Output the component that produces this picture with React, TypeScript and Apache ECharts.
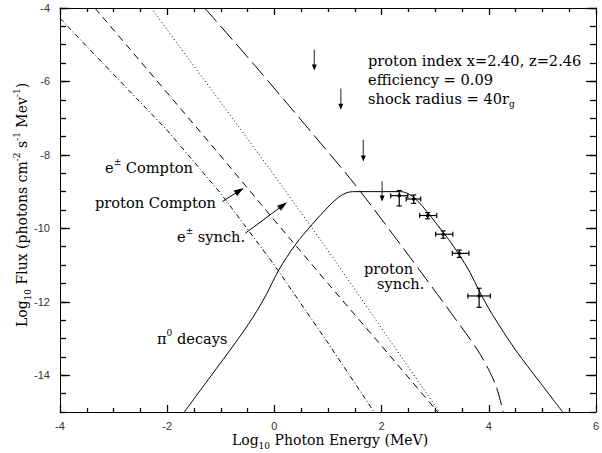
import React, { useEffect, useRef } from 'react';
import * as echarts from 'echarts';

// ---- data (log10 E [MeV], log10 flux) ----
const eComptonX = [-4, -3, -2, -1, 0, 1, 1.86];
const eComptonY = [-4.28, -5.81, -7.33, -9.05, -11.0, -13.12, -15.0];

const pComptonX = [-3.35, -2, -1, 0, 1, 2, 3.05];
const pComptonY = [-4, -6.31, -8.03, -9.78, -11.5, -13.2, -15.0];

const eSynchX = [-2.3, -1, 0, 1, 2, 3.08];
const eSynchY = [-4, -6.57, -8.56, -10.6, -12.72, -15.0];

const pSynchX = [-1.3, -0.35, 0.7, 1.5, 2.43, 3.3, 3.79, 4.0, 4.15, 4.27];
const pSynchY = [-4, -5.59, -7.4, -8.8, -10.59, -12.31, -13.31, -13.85, -14.35, -15.0];

const pionX = [-1.68, -1.2, -0.72, -0.4, -0.15, 0.08, 0.39, 0.7, 1.0, 1.2, 1.35, 1.5, 2.0, 2.35, 2.5, 2.65, 2.85, 3.05, 3.25, 3.45, 3.65, 3.82, 4.07, 4.5, 4.97, 5.38];
const pionY = [-15, -14.05, -13.1, -12.42, -11.8, -11.14, -10.45, -9.9, -9.42, -9.15, -9.03, -9.0, -9.0, -9.0, -9.06, -9.22, -9.55, -9.92, -10.3, -10.72, -11.2, -11.7, -12.35, -13.31, -14.22, -15.0];

// measured points with error bars
const ptX = [2.33, 2.6, 2.86, 3.15, 3.45, 3.82];
const ptY = [-9.11, -9.2, -9.65, -10.16, -10.68, -11.84];
const ptXLo = [2.17, 2.46, 2.71, 3.01, 3.32, 3.61];
const ptXHi = [2.49, 2.73, 3.03, 3.33, 3.63, 4.03];
const ptYLo = [-9.39, -9.32, -9.74, -10.27, -10.79, -12.15];
const ptYHi = [-8.97, -9.09, -9.57, -10.07, -10.59, -11.63];

// upper limits
const ulX = [0.745, 1.24, 1.66, 2.01];
const ulTop = [-5.14, -6.19, -7.59, -8.72];
const ulTip = [-5.7, -6.77, -8.18, -9.27];

// annotation arrows
const pointerFrom = [[-0.97, -9.27], [-0.54, -10.13]];
const pointerTo = [[-0.57, -8.9], [0.236, -9.29]];

// tick labels
const yMajorTicks = [-14, -12, -10, -8, -6, -4];

const serif = "'DejaVu Serif', serif";
const sans = "'Liberation Sans', Arial, sans-serif";

const X_MIN = -4, X_MAX = 6, Y_MIN = -15, Y_MAX = -4;

const zip = (xs: number[], ys: number[]) => xs.map((x, i) => [x, ys[i]]);

export default function App() {
  const ref = useRef<HTMLDivElement>(null);

  useEffect(() => {
    if (!ref.current) return;
    const chart = echarts.init(ref.current, undefined, { renderer: 'svg' });

    const black = '#000';
    const ls = { color: black, width: 1 };
    const tls = { color: black, width: 1.3 };

    const lineSeries = (xs: number[], ys: number[], type: any, smooth: number | boolean = false) => ({
      type: 'line',
      data: zip(xs, ys),
      showSymbol: false,
      symbol: 'none',
      smooth,
      clip: true,
      lineStyle: { color: black, width: 1, type },
      silent: true,
    });

    const errData = ptX.map((x, i) => [x, ptY[i], ptXLo[i], ptXHi[i], ptYLo[i], ptYHi[i]]);
    const ulData = ulX.map((x, i) => [x, ulTop[i], ulTip[i]]);
    const ptrData = pointerFrom.map((p, i) => [p[0], p[1], pointerTo[i][0], pointerTo[i][1]]);

    const xAx = (pos: 'bottom' | 'top', labels: boolean) => ({
      type: 'value',
      min: X_MIN,
      max: X_MAX,
      interval: 2,
      position: pos,
      axisLine: { show: true, onZero: false, lineStyle: ls },
      axisTick: { show: true, inside: true, length: 7, lineStyle: tls },
      minorTick: { show: true, splitNumber: 4, length: 4, lineStyle: tls },
      splitLine: { show: false },
      minorSplitLine: { show: false },
      axisLabel: labels
        ? { show: true, margin: 8, fontFamily: sans, fontSize: 11, color: '#333' }
        : { show: false },
    });

    const yAx = (pos: 'left' | 'right', labels: boolean) => ({
      type: 'value',
      min: Y_MIN,
      max: Y_MAX,
      interval: 0.5,
      position: pos,
      axisLine: { show: true, onZero: false, lineStyle: ls },
      axisTick: { show: true, inside: true, length: 6, lineStyle: tls },
      splitLine: { show: false },
      axisLabel: labels
        ? {
            show: true,
            margin: 10,
            fontFamily: sans,
            fontSize: 11,
            color: '#333',
            formatter: (v: number) => (yMajorTicks.includes(v) ? String(v) : ''),
          }
        : { show: false },
    });

    const yMajorAx = (pos: 'left' | 'right') => ({
      type: 'value',
      min: Y_MIN,
      max: Y_MAX,
      interval: 1,
      position: pos,
      axisLine: { show: false, onZero: false },
      axisTick: { show: true, inside: true, length: 10, lineStyle: tls, customValues: yMajorTicks },
      splitLine: { show: false },
      axisLabel: { show: false },
    });

    const series: any[] = [
      lineSeries(eComptonX, eComptonY, [5, 2.5, 1, 2.5]),
      lineSeries(pComptonX, pComptonY, [7, 5]),
      lineSeries(eSynchX, eSynchY, [1, 2.5]),
      lineSeries(pSynchX, pSynchY, [18, 6], 0.3),
      lineSeries(pionX, pionY, 'solid', 0.35),
      {
        type: 'custom',
        data: errData,
        encode: { x: 0, y: 1 },
        renderItem: (params: any, api: any) => {
          const c = api.coord([api.value(0), api.value(1)]);
          const l = api.coord([api.value(2), api.value(1)]);
          const r = api.coord([api.value(3), api.value(1)]);
          const b = api.coord([api.value(0), api.value(4)]);
          const t = api.coord([api.value(0), api.value(5)]);
          const st = { stroke: '#000', lineWidth: 1.2 };
          const cap = 2.5;
          return {
            type: 'group',
            children: [
              { type: 'line', shape: { x1: l[0], y1: l[1], x2: r[0], y2: r[1] }, style: st },
              { type: 'line', shape: { x1: b[0], y1: b[1], x2: t[0], y2: t[1] }, style: st },
              { type: 'line', shape: { x1: l[0], y1: l[1] - cap, x2: l[0], y2: l[1] + cap }, style: st },
              { type: 'line', shape: { x1: r[0], y1: r[1] - cap, x2: r[0], y2: r[1] + cap }, style: st },
              { type: 'line', shape: { x1: b[0] - cap, y1: b[1], x2: b[0] + cap, y2: b[1] }, style: st },
              { type: 'line', shape: { x1: t[0] - cap, y1: t[1], x2: t[0] + cap, y2: t[1] }, style: st },
              { type: 'circle', shape: { cx: c[0], cy: c[1], r: 1.8 }, style: { fill: '#000' } },
            ],
          };
        },
        silent: true,
      },
      {
        type: 'custom',
        data: ulData,
        encode: { x: 0, y: 1 },
        renderItem: (params: any, api: any) => {
          const t = api.coord([api.value(0), api.value(1)]);
          const p = api.coord([api.value(0), api.value(2)]);
          const hl = 6;
          const hw = 2.5;
          return {
            type: 'group',
            children: [
              { type: 'line', shape: { x1: t[0], y1: t[1], x2: p[0], y2: p[1] - hl + 1 }, style: { stroke: '#555', lineWidth: 1.3 } },
              {
                type: 'polygon',
                shape: { points: [[p[0], p[1]], [p[0] - hw, p[1] - hl], [p[0] + hw, p[1] - hl]] },
                style: { fill: '#000' },
              },
            ],
          };
        },
        silent: true,
      },
      {
        type: 'custom',
        data: ptrData,
        encode: { x: 0, y: 1 },
        renderItem: (params: any, api: any) => {
          const a = api.coord([api.value(0), api.value(1)]);
          const b = api.coord([api.value(2), api.value(3)]);
          const dx = b[0] - a[0];
          const dy = b[1] - a[1];
          const len = Math.sqrt(dx * dx + dy * dy);
          const ux = dx / len;
          const uy = dy / len;
          const L = 10;
          const W = 3.2;
          const bx = b[0] - ux * L;
          const by = b[1] - uy * L;
          return {
            type: 'group',
            children: [
              { type: 'line', shape: { x1: a[0], y1: a[1], x2: bx + ux * 2, y2: by + uy * 2 }, style: { stroke: '#000', lineWidth: 1 } },
              {
                type: 'polygon',
                shape: {
                  points: [
                    [b[0], b[1]],
                    [bx - uy * W, by + ux * W],
                    [bx + uy * W, by - ux * W],
                  ],
                },
                style: { fill: '#000' },
              },
            ],
          };
        },
        silent: true,
      },
    ];

    const mkRich = (fs: number) => ({
      n: { fontFamily: serif, fontSize: fs, lineHeight: 20, fill: '#000' },
      sup: { fontFamily: serif, fontSize: 9, lineHeight: 10, verticalAlign: 'top', fill: '#000' },
      sub: { fontFamily: serif, fontSize: 9, lineHeight: 10, verticalAlign: 'bottom', fill: '#000' },
    });
    const rich = mkRich(14.6);
    const richT = mkRich(14);
    const label = (x: number, y: number, text: string, extra: any = {}, r: any = rich) => ({
      type: 'text',
      x,
      y,
      silent: true,
      ...extra,
      style: { text, rich: r, align: 'left', verticalAlign: 'middle', ...(extra.style || {}) },
    });

    const option: any = {
      animation: false,
      backgroundColor: '#fff',
      grid: { left: 60, right: 3, top: 8, bottom: 41, containLabel: false },
      xAxis: [xAx('bottom', true), xAx('top', false)],
      yAxis: [yAx('left', true), yAx('right', false), yMajorAx('left'), yMajorAx('right')],
      series,
      graphic: [
        label(105, 167, '{n|e}{sup|±}{n| Compton}'),
        label(95, 202, '{n|proton Compton}'),
        label(177, 236, '{n|e}{sup|±}{n| synch.}'),
        label(157, 338, '{n|π}{sup|0}{n| decays}'),
        label(364, 268, '{n|proton}'),
        label(377, 283, '{n|synch.}'),
        label(368, 60, '{n|proton index x=2.40, z=2.46}'),
        label(368, 79, '{n|efficiency = 0.09}'),
        label(368, 98, '{n|shock radius = 40r}{sub|g}'),
        label(330, 440, '{n|Log}{sub|10}{n| Photon Energy (MeV)}', { style: { align: 'center' } }, richT),
        label(22, 205, '{n|Log}{sub|10}{n| Flux (photons cm}{sup|-2}{n| s}{sup|-1}{n| Mev}{sup|-1}{n|)}', {
          rotation: Math.PI / 2,
          style: { align: 'center' },
        }, richT),
      ],
    };

    chart.setOption(option);
    return () => chart.dispose();
  }, []);

  return (
    <div
      ref={ref}
      style={{ position: 'fixed', left: 0, top: 0, width: 602, height: 453, background: '#fff' }}
    />
  );
}
